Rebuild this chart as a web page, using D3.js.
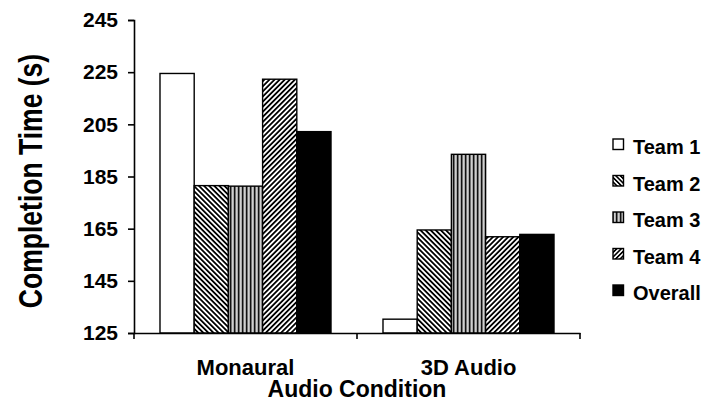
<!DOCTYPE html>
<html>
<head>
<meta charset="utf-8">
<script src="https://cdn.jsdelivr.net/npm/d3@7"></script>
<style>
  html, body { margin: 0; padding: 0; background: #fff; }
  svg text { font-family: "Liberation Sans", Arial, Helvetica, sans-serif; font-weight: bold; fill: #000; }
</style>
</head>
<body>
<svg id="chart" width="707" height="402"></svg>
<script>
// Completion time by audio condition and team
const conditions = ["Monaural", "3D Audio"];
const seriesNames = ["Team 1", "Team 2", "Team 3", "Team 4", "Overall"];
const team1 = [224.5, 130.3];
const team2 = [181.5, 164.5];
const team3 = [181.3, 193.5];
const team4 = [222.3, 161.9];
const overall = [202.2, 162.8];
const yTicks = [125, 145, 165, 185, 205, 225, 245];

const seriesValues = [team1, team2, team3, team4, overall];

const svg = d3.select("#chart");
const margin = { left: 134, right: 127, top: 20, bottom: 69 };
const W = 707, H = 402;

const x0 = d3.scaleBand().domain(conditions).range([margin.left, W - margin.right]).paddingInner(0).paddingOuter(0);
const x1 = d3.scaleBand().domain(seriesNames).range([0, x0.bandwidth()]).paddingInner(0).paddingOuter(0.76);
const y = d3.scaleLinear().domain([125, 245]).range([H - margin.bottom, margin.top]);

// fill patterns
const defs = svg.append("defs");
function hatch(id, angle, period, lw) {
  const p = defs.append("pattern").attr("id", id).attr("patternUnits", "userSpaceOnUse")
    .attr("width", period).attr("height", period).attr("patternTransform", `rotate(${angle})`);
  p.append("rect").attr("width", period).attr("height", period).attr("fill", "#fff");
  p.append("rect").attr("x", 0).attr("y", 0).attr("width", lw).attr("height", period).attr("fill", "#000");
  return `url(#${id})`;
}
const pVert = defs.append("pattern").attr("id", "vert").attr("patternUnits", "userSpaceOnUse")
  .attr("width", 4).attr("height", 4);
pVert.append("rect").attr("width", 4).attr("height", 4).attr("fill", "#9a9a9a");
pVert.append("rect").attr("x", 0).attr("width", 1.3).attr("height", 4).attr("fill", "#111");
pVert.append("rect").attr("x", 2.3).attr("width", 0.9).attr("height", 4).attr("fill", "#e8e8e8");

const fills = [
  "#fff",
  hatch("diagDown", -45, 3.6, 1.8),
  "url(#vert)",
  hatch("diagUp", 45, 3.6, 1.8),
  "#000"
];

// bars
conditions.forEach((c, ci) => {
  const g = svg.append("g").attr("transform", `translate(${x0(c)},0)`);
  seriesNames.forEach((s, si) => {
    const v = seriesValues[si][ci];
    g.append("rect")
      .attr("x", x1(s))
      .attr("y", y(v))
      .attr("width", x1.bandwidth())
      .attr("height", y(125) - y(v))
      .attr("fill", fills[si])
      .attr("stroke", "#000")
      .attr("stroke-width", 1.4);
  });
});

// y axis
const yAxis = svg.append("g").attr("transform", `translate(${margin.left},0)`)
  .call(d3.axisLeft(y).tickValues(yTicks).tickSize(6).tickPadding(10).tickFormat(d3.format("d")));
yAxis.select(".domain").attr("stroke-width", 1.6);
yAxis.selectAll(".tick line").attr("stroke-width", 1.6);
yAxis.selectAll(".tick text").style("font-size", "21px");

// x axis
const xAxis = svg.append("g").attr("transform", `translate(0,${y(125)})`)
  .call(d3.axisBottom(x0).tickSize(0).tickPadding(26));
xAxis.select(".domain").attr("stroke-width", 1.6);
xAxis.selectAll(".tick text").style("font-size", "22px");
// boundary ticks between conditions
const bounds = [x0.range()[0], x0(conditions[1]), x0.range()[1]];
xAxis.selectAll(".bound").data(bounds).join("line")
  .attr("x1", d => d).attr("x2", d => d).attr("y1", 0).attr("y2", 6)
  .attr("stroke", "#000").attr("stroke-width", 1.6);
svg.selectAll("g").attr("font-family", null).attr("font-size", null);

// axis titles
svg.append("text")
  .attr("transform", "translate(42,181) rotate(-90) scale(0.78,1)")
  .attr("text-anchor", "middle")
  .style("font-size", "34px")
  .text("Completion Time (s)");
svg.append("text")
  .attr("x", (x0.range()[0] + x0.range()[1]) / 2)
  .attr("y", 397)
  .attr("text-anchor", "middle")
  .style("font-size", "23px")
  .text("Audio Condition");

// legend
const legendFills = [
  "#fff",
  hatch("diagDownL", -45, 3.2, 1.6),
  "url(#vert)",
  hatch("diagUpL", 45, 3.2, 1.6),
  "#000"
];
const legend = svg.append("g");
seriesNames.forEach((s, i) => {
  const by = 154 + i * 36.5;
  legend.append("rect")
    .attr("x", 613).attr("y", by - 15).attr("width", 10.5).attr("height", 10.5)
    .attr("fill", legendFills[i]).attr("stroke", "#000").attr("stroke-width", 1.4);
  legend.append("text")
    .attr("x", 633).attr("y", by)
    .style("font-size", "20px")
    .text(s);
});
</script>
</body>
</html>
